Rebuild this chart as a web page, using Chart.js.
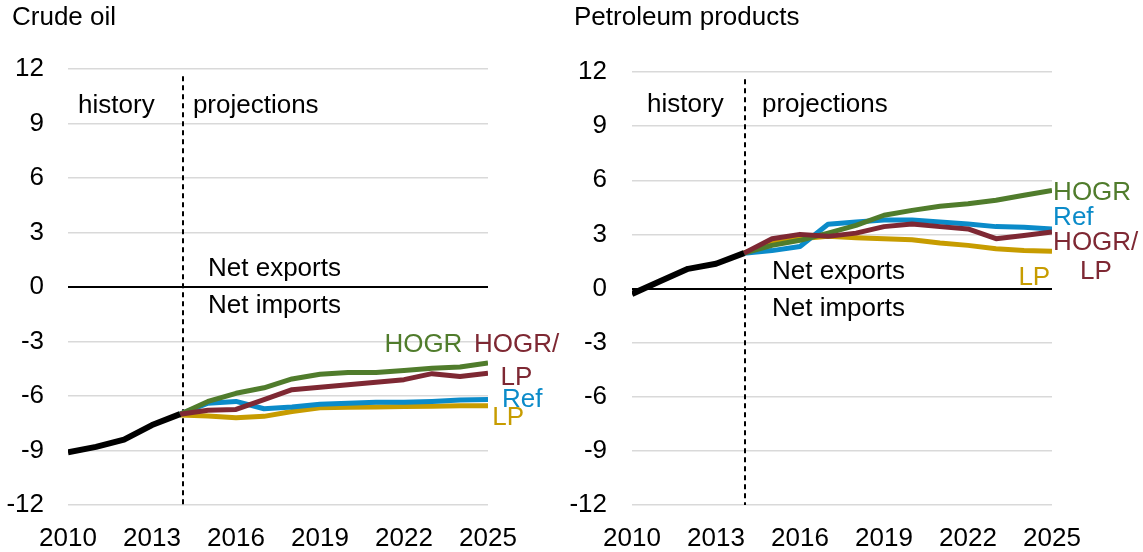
<!DOCTYPE html>
<html>
<head>
<meta charset="utf-8">
<script src="https://cdn.jsdelivr.net/npm/chart.js@4/dist/chart.umd.min.js"></script>
<style>
  html, body { margin: 0; padding: 0; background: #fff; }
  .panel { position: absolute; top: 0; height: 552px; }
  #left { left: 0; width: 560px; }
  #right { left: 560px; width: 583px; }
</style>
</head>
<body>
<div class="panel" id="left"><canvas id="crude" width="560" height="552"></canvas></div>
<div class="panel" id="right"><canvas id="products" width="583" height="552"></canvas></div>
<script>
// years
const histYears = [2010, 2011, 2012, 2013, 2014];
const projYears = [2014, 2015, 2016, 2017, 2018, 2019, 2020, 2021, 2022, 2023, 2024, 2025];
const yTicks = [-12, -9, -6, -3, 0, 3, 6, 9, 12];
const xTicks = [2010, 2013, 2016, 2019, 2022, 2025];

// crude oil (net exports, negative = net imports)
const crudeHistory = [-9.1, -8.8, -8.4, -7.6, -7.0];
const crudeRef     = [-7.0, -6.4, -6.3, -6.7, -6.6, -6.45, -6.4, -6.35, -6.35, -6.3, -6.22, -6.19];
const crudeHOGR    = [-7.0, -6.3, -5.85, -5.55, -5.06, -4.8, -4.7, -4.7, -4.6, -4.47, -4.4, -4.18];
const crudeLP      = [-7.05, -7.1, -7.2, -7.12, -6.85, -6.65, -6.62, -6.6, -6.58, -6.56, -6.54, -6.53];
const crudeHOGRLP  = [-7.0, -6.78, -6.74, -6.2, -5.65, -5.52, -5.38, -5.24, -5.1, -4.77, -4.93, -4.75];

// petroleum products
const prodHistory = [-0.3, 0.4, 1.09, 1.37, 1.96];
const prodRef     = [1.96, 2.1, 2.33, 3.56, 3.68, 3.8, 3.8, 3.68, 3.57, 3.43, 3.39, 3.3];
const prodHOGR    = [1.96, 2.39, 2.67, 3.07, 3.5, 4.06, 4.33, 4.56, 4.7, 4.89, 5.17, 5.44];
const prodLP      = [1.96, 2.57, 2.76, 2.89, 2.81, 2.76, 2.7, 2.52, 2.39, 2.2, 2.11, 2.07];
const prodHOGRLP  = [1.96, 2.76, 3.0, 2.89, 3.07, 3.43, 3.57, 3.43, 3.3, 2.76, 2.94, 3.13];

const FONT = '"Liberation Sans", Arial, sans-serif';
const SIZE = 26;
const COL = { hist: '#000000', ref: '#0b8bc9', hogr: '#507c2c', lp: '#c79c00', hogrlp: '#7e2833' };

const pts = (xs, ys) => xs.map((x, i) => ({ x: x, y: ys[i] }));

function series(label, xs, ys, color, order, width) {
  return {
    label: label,
    data: pts(xs, ys),
    borderColor: color,
    borderWidth: width || 5,
    pointRadius: 0,
    tension: 0,
    borderJoinStyle: 'round',
    order: order
  };
}

// title, dashed history/projection divider and the text notes
const notesPlugin = {
  id: 'notes',
  beforeDatasetsDraw(chart, args, o) {
    const c = chart.ctx, xs = chart.scales.x, ys = chart.scales.y;
    const x = Math.round(xs.getPixelForValue(o.divider));
    c.save();
    c.strokeStyle = '#000';
    c.lineWidth = 2;
    c.setLineDash([5, 4]);
    c.beginPath();
    c.moveTo(x, ys.getPixelForValue(11.6));
    c.lineTo(x, ys.getPixelForValue(-12));
    c.stroke();
    c.restore();
  },
  afterDatasetsDraw(chart, args, o) {
    const c = chart.ctx, xs = chart.scales.x, ys = chart.scales.y;
    c.save();
    c.font = SIZE + 'px ' + FONT;
    c.textBaseline = 'middle';
    c.textAlign = 'left';
    c.fillStyle = '#000';
    c.fillText(o.title, o.titleX, o.titleY);
    o.items.forEach(n => {
      c.fillStyle = n.color || '#000';
      c.fillText(n.text, xs.getPixelForValue(n.x), ys.getPixelForValue(n.y));
    });
    c.restore();
  }
};

function makePanel(id, d) {
  new Chart(document.getElementById(id), {
    type: 'line',
    data: {
      datasets: [
        series('history', histYears, d.hist, COL.hist, 0, 6),
        series('HOGR/LP', projYears, d.hogrlp, COL.hogrlp, 1),
        series('HOGR', projYears, d.hogr, COL.hogr, 2),
        series('Ref', projYears, d.ref, COL.ref, 3),
        series('LP', projYears, d.lp, COL.lp, 4)
      ]
    },
    options: {
      responsive: false,
      animation: false,
      layout: { padding: { top: d.top, right: d.right, left: 0, bottom: 0 } },
      plugins: {
        legend: { display: false },
        tooltip: { enabled: false },
        notes: d.notes
      },
      scales: {
        x: {
          type: 'linear',
          min: 2010,
          max: 2025,
          afterFit: s => { s.height = 552 - d.bottom; },
          afterBuildTicks: s => { s.ticks = xTicks.map(v => ({ value: v })); },
          ticks: {
            font: { family: FONT, size: SIZE },
            color: '#000',
            padding: 18,
            maxRotation: 0,
            callback: v => String(v)
          },
          grid: { display: false, drawTicks: false },
          border: { display: false }
        },
        y: {
          min: -12,
          max: 12,
          afterFit: s => { s.width = d.left; },
          afterBuildTicks: s => { s.ticks = yTicks.map(v => ({ value: v })); },
          ticks: {
            font: { family: FONT, size: SIZE },
            color: '#000',
            padding: d.tickPad,
            callback: v => String(v)
          },
          grid: {
            drawTicks: false,
            color: c => c.tick && c.tick.value === 0 ? '#000' : '#d9d9d9',
            lineWidth: c => c.tick && c.tick.value === 0 ? 2 : 1.5
          },
          border: { display: false }
        }
      }
    },
    plugins: [notesPlugin]
  });
}

makePanel('crude', {
  hist: crudeHistory, ref: crudeRef, hogr: crudeHOGR, lp: crudeLP, hogrlp: crudeHOGRLP,
  left: 68, right: 72, top: 69, bottom: 505, tickPad: 24,
  notes: {
    title: 'Crude oil', titleX: 12, titleY: 18,
    divider: 2014.1,
    items: [
      { text: 'history', x: 2010.36, y: 10.0 },
      { text: 'projections', x: 2014.46, y: 10.0 },
      { text: 'Net exports', x: 2015.0, y: 1.0 },
      { text: 'Net imports', x: 2015.0, y: -1.05 },
      { text: 'HOGR', x: 2021.3, y: -3.2, color: COL.hogr },
      { text: 'HOGR/', x: 2024.5, y: -3.2, color: COL.hogrlp },
      { text: 'LP', x: 2025.45, y: -5.0, color: COL.hogrlp },
      { text: 'Ref', x: 2025.5, y: -6.2, color: COL.ref },
      { text: 'LP', x: 2025.15, y: -7.2, color: COL.lp }
    ]
  }
});

makePanel('products', {
  hist: prodHistory, ref: prodRef, hogr: prodHOGR, lp: prodLP, hogrlp: prodHOGRLP,
  left: 72, right: 91, top: 72, bottom: 505, tickPad: 25,
  notes: {
    title: 'Petroleum products', titleX: 14, titleY: 18,
    divider: 2014.05,
    items: [
      { text: 'history', x: 2010.54, y: 10.2 },
      { text: 'projections', x: 2014.64, y: 10.2 },
      { text: 'Net exports', x: 2015.0, y: 0.95 },
      { text: 'Net imports', x: 2015.0, y: -1.15 },
      { text: 'HOGR', x: 2025.04, y: 5.33, color: COL.hogr },
      { text: 'Ref', x: 2025.04, y: 3.94, color: COL.ref },
      { text: 'HOGR/', x: 2025.04, y: 2.55, color: COL.hogrlp },
      { text: 'LP', x: 2026.0, y: 0.9, color: COL.hogrlp },
      { text: 'LP', x: 2023.8, y: 0.6, color: COL.lp }
    ]
  }
});
</script>
</body>
</html>
